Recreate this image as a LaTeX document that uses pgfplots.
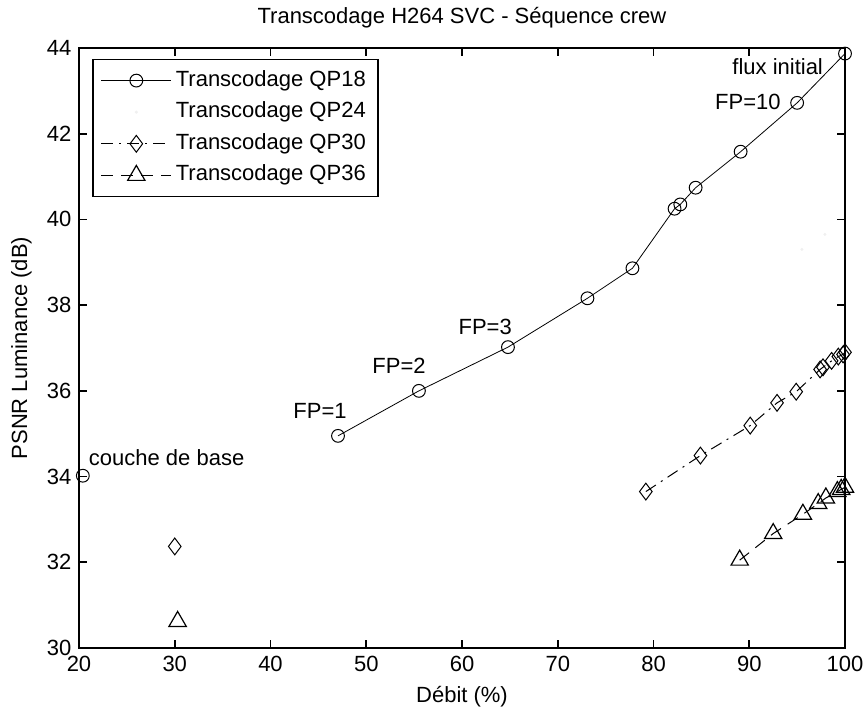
\documentclass[border=0pt]{standalone}
\usepackage{fontspec}
\setmainfont{Liberation Sans}
\usepackage{pgfplots}
\pgfplotsset{compat=1.18}
\begin{document}
\fontsize{11}{13}\selectfont
\begin{tikzpicture}
\begin{axis}[
  scale only axis, width=383pt, height=300pt,
  xmin=20, xmax=100, ymin=30, ymax=44,
  xtick={20,30,...,100}, ytick={30,32,...,44},
  tick align=inside, major tick length=4pt,
  tick style={line width=0.8pt, black},
  axis line style={line width=1pt},
  /pgf/number format/assume math mode=true,
  ticklabel style={font=\fontsize{11}{13}\selectfont},
  title={Transcodage H264 SVC - Séquence crew},
  title style={font=\fontsize{11}{13}\selectfont},
  xlabel={Débit (\%)}, ylabel={PSNR Luminance (dB)},
  label style={font=\fontsize{11}{13}\selectfont},
  legend style={at={(0.017,0.982)}, anchor=north west, draw=black, line width=0.8pt,
    inner xsep=4pt, inner ysep=3.25pt, row sep=1.3pt,
    nodes={text height=8pt, text depth=2.5pt, inner sep=2pt},
    font=\fontsize{11}{13}\selectfont},
  legend cell align=left,
  legend image code/.code={
    \draw[mark repeat=2,mark phase=2,#1] plot coordinates {(0pt,0pt) (17.5pt,0pt) (35pt,0pt)};
  },
]
% QP18
\addplot[black, line width=0.4pt, mark=o, mark size=3.2pt, mark options={solid, line width=0.5pt}]
coordinates {(47.05,34.95) (55.5,36.0) (64.8,37.02) (73.1,38.16) (77.8,38.86) (82.2,40.25) (82.8,40.35) (84.4,40.74) (89.1,41.58) (95.0,42.72) (100,43.87)};
\addlegendentry{Transcodage QP18}
% QP24 (very faint)
\addplot[black!6, line width=0.3pt, mark=*, mark size=0.6pt, only marks]
coordinates {(95.5,39.3) (97.9,39.65)};
\addlegendentry{Transcodage QP24}
% QP30
\addplot[black, line width=0.5pt, dash pattern=on 6pt off 3pt on 1pt off 3pt, mark=diamond, mark size=4.2pt, mark options={solid, line width=0.5pt}]
coordinates {(79.2,33.65) (84.9,34.49) (90.1,35.19) (92.9,35.72) (94.9,35.98) (97.4,36.5) (97.7,36.55) (98.6,36.7) (99.3,36.8) (99.8,36.85) (100,36.9)};
\addlegendentry{Transcodage QP30}
% QP36
\addplot[black, line width=0.5pt, dash pattern=on 6pt off 4pt, mark=triangle, mark size=5pt, mark options={solid, line width=0.6pt}]
coordinates {(89.0,32.05) (92.5,32.67) (95.6,33.12) (97.2,33.37) (98.0,33.5) (99.2,33.65) (99.6,33.7) (100,33.75)};
\addlegendentry{Transcodage QP36}
% isolated base-layer points
\addplot[forget plot, only marks, black, mark=o, mark size=3.2pt, mark options={line width=0.5pt}]
coordinates {(20.4,34.02)};
\addplot[forget plot, only marks, black, mark=diamond, mark size=4.2pt, mark options={line width=0.5pt}]
coordinates {(30.0,32.37)};
\addplot[forget plot, only marks, black, mark=triangle, mark size=5pt, mark options={line width=0.6pt}]
coordinates {(30.3,30.62)};
% annotations
\node[anchor=west, inner sep=0pt] at (axis cs:21.0,34.44) {couche de base};
\node[anchor=west, inner sep=0pt] at (axis cs:42.35,35.53) {FP=1};
\node[anchor=west, inner sep=0pt] at (axis cs:50.6,36.58) {FP=2};
\node[anchor=west, inner sep=0pt] at (axis cs:59.6,37.5) {FP=3};
\node[anchor=west, inner sep=0pt] at (axis cs:86.4,42.74) {FP=10};
\node[anchor=west, inner sep=0pt] at (axis cs:88.2,43.56) {flux initial};
\end{axis}
\pgfresetboundingbox
\path[use as bounding box] ([shift={(-39.5pt,-31.5pt)}]current axis.south west) rectangle ([shift={(9pt,24pt)}]current axis.north east);
\end{tikzpicture}
\end{document}
